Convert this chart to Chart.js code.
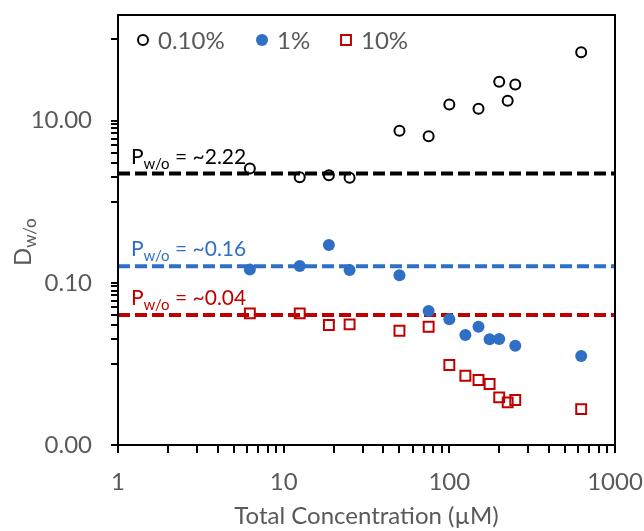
<!DOCTYPE html>
<html>
<head>
<meta charset="utf-8">
<script src="https://cdn.jsdelivr.net/npm/chart.js@4.4.1/dist/chart.umd.min.js"></script>
<style>
  html, body { margin: 0; padding: 0; background: #fff; }
  #c { display: block; }
</style>
</head>
<body>
<canvas id="c" width="644" height="531"></canvas>
<script>
// Total concentration (µM) for each measurement
const concentrations = [6.25, 12.5, 18.75, 25, 50, 75, 100, 125, 150, 175, 200, 225, 250, 625];
// Distribution ratio D(w/o) for each surfactant level (null = not measured)
const d01pct = [2.57, 2.0, 2.11, 1.97, 7.47, 6.42, 15.8, null, 14.0, null, 30.1, 17.5, 27.9, 69.5];
const d1pct = [0.146, 0.161, 0.292, 0.144, 0.124, 0.0448, 0.0354, 0.0227, 0.0287, 0.0201, 0.0202, null, 0.0167, 0.0125];
const d10pct = [0.042, 0.042, 0.0301, 0.0307, 0.0256, 0.0287, 0.00968, 0.00714, 0.00634, 0.00566, 0.00386, 0.00335, 0.00358, 0.00277];
const seriesNames = ['0.10%', '1%', '10%'];
// Partition coefficients P(w/o) drawn as dashed reference lines
const partitionCoeffs = [2.22, 0.16, 0.04];
// Labelled ticks
const xTickLabels = [1, 10, 100, 1000];
const yTickLabels = [0.001, 0.1, 10];

const BLACK = '#000000', BLUE = '#2F6FC5', RED = '#C00000', GREY = '#595959';
const seriesColors = [BLACK, BLUE, RED];
const FONT = 'Lato';

function toPoints(values) {
  const pts = [];
  values.forEach((v, i) => { if (v !== null) pts.push({ x: concentrations[i], y: v }); });
  return pts;
}

// x: major decades with 2..9 minor ticks
const xTicks = [];
for (let d = 0; d < 3; d++) for (let k = 1; k < 10; k++) xTicks.push(k * Math.pow(10, d));
xTicks.push(1000);
// y: base-100 majors with minor ticks in the decade just below each
const yTicks = [0.001];
for (let k = 1; k < 10; k++) yTicks.push(k / 100);
yTicks.push(0.1);
for (let k = 1; k < 10; k++) yTicks.push(k);
yTicks.push(10, 100);

const markerStyles = [
  { pointStyle: 'circle', radius: 5, borderWidth: 2, borderColor: BLACK, backgroundColor: 'rgba(0,0,0,0)' },
  { pointStyle: 'circle', radius: 6, borderWidth: 0, borderColor: BLUE, backgroundColor: BLUE },
  { pointStyle: 'rect', radius: 7, borderWidth: 2, borderColor: RED, backgroundColor: 'rgba(0,0,0,0)' }
];

const seriesData = [d01pct, d1pct, d10pct];
const datasets = seriesData.map((vals, i) => ({
  type: 'scatter',
  label: seriesNames[i],
  data: toPoints(vals),
  pointStyle: markerStyles[i].pointStyle,
  pointRadius: markerStyles[i].radius,
  pointBorderWidth: markerStyles[i].borderWidth,
  pointBorderColor: markerStyles[i].borderColor,
  pointBackgroundColor: markerStyles[i].backgroundColor,
  showLine: false
}));
partitionCoeffs.forEach((p, i) => {
  datasets.push({
    type: 'line',
    label: 'P ' + seriesNames[i],
    data: [{ x: 1, y: p }, { x: 1000, y: p }],
    borderColor: seriesColors[i],
    borderWidth: 4,
    borderDash: [12, 5],
    pointRadius: 0,
    fill: false
  });
});

function drawSubText(ctx, x, y, main, sub, rest, color, size, subSize, drop) {
  ctx.fillStyle = color;
  ctx.textBaseline = 'alphabetic';
  ctx.textAlign = 'left';
  ctx.font = size + 'px ' + FONT;
  ctx.fillText(main, x, y);
  x += ctx.measureText(main).width;
  ctx.font = subSize + 'px ' + FONT;
  ctx.fillText(sub, x, y + drop);
  x += ctx.measureText(sub).width;
  ctx.font = size + 'px ' + FONT;
  ctx.fillText(rest, x, y);
}

// keep the plot box at fixed offsets: no extra room for overhanging tick labels
function clearLabelPadding(s) {
  s.paddingLeft = 0; s.paddingRight = 0; s.paddingTop = 0; s.paddingBottom = 0;
}

const decorations = {
  id: 'decorations',
  afterDraw(chart) {
    const { ctx, chartArea: a, scales } = chart;
    ctx.save();
    // plot frame
    ctx.strokeStyle = BLACK;
    ctx.lineWidth = 2;
    ctx.strokeRect(a.left, a.top, a.right - a.left, a.bottom - a.top);

    // P(w/o) labels above each dashed line
    partitionCoeffs.forEach((p, i) => {
      const yy = scales.y.getPixelForValue(p) - 10;
      drawSubText(ctx, a.left + 13, yy, 'P', 'w/o', ' = ~' + p.toFixed(2), seriesColors[i], 21, 15, 5);
    });

    // legend inside the plot
    const legendX = [a.left + 25, a.left + 144, a.left + 228];
    const legendY = a.top + 25;
    markerStyles.forEach((m, i) => {
      ctx.strokeStyle = m.borderColor;
      ctx.fillStyle = m.backgroundColor;
      ctx.lineWidth = m.borderWidth;
      Chart.helpers.drawPoint(ctx, { pointStyle: m.pointStyle, radius: m.radius, borderWidth: m.borderWidth }, legendX[i], legendY);
      ctx.fillStyle = GREY;
      ctx.font = '24px ' + FONT;
      ctx.textBaseline = 'middle';
      ctx.textAlign = 'left';
      ctx.fillText(seriesNames[i], legendX[i] + 15, legendY + 1);
    });

    // y-axis title D(w/o)
    ctx.translate(31, 266);
    ctx.rotate(-Math.PI / 2);
    drawSubText(ctx, 0, 0, 'D', 'w/o', '', GREY, 24, 17, 5);
    ctx.restore();
  }
};

new Chart(document.getElementById('c'), {
  data: { datasets },
  options: {
    responsive: false,
    animation: false,
    layout: { padding: { left: 0, right: 29, top: 15, bottom: 0 } },
    plugins: { legend: { display: false }, tooltip: { enabled: false } },
    scales: {
      x: {
        type: 'logarithmic',
        position: 'bottom',
        min: 1,
        max: 1000,
        afterBuildTicks(s) { s.ticks = xTicks.map(v => ({ value: v })); },
        afterFit(s) { s.height = 86; clearLabelPadding(s); },
        ticks: {
          autoSkip: false, maxRotation: 0, padding: 15, color: GREY,
          font: { family: FONT, size: 24 },
          callback: v => (xTickLabels.includes(v) ? String(v) : '')
        },
        grid: { drawOnChartArea: false, drawTicks: true, tickLength: 8, color: BLACK, lineWidth: 2 },
        border: { color: BLACK, width: 2 },
        title: {
          display: true, text: 'Total Concentration (µM)', color: GREY,
          font: { family: FONT, size: 24 }, padding: { top: 4, bottom: 0 }
        }
      },
      y: {
        type: 'logarithmic',
        position: 'left',
        min: 0.001,
        max: 200,
        afterBuildTicks(s) { s.ticks = yTicks.map(v => ({ value: v })); },
        afterFit(s) { s.width = 118; clearLabelPadding(s); },
        ticks: {
          autoSkip: false, padding: 19, color: GREY,
          font: { family: FONT, size: 24 },
          callback: v => (yTickLabels.includes(v) ? v.toFixed(2) : '')
        },
        grid: { drawOnChartArea: false, drawTicks: true, tickLength: 7, color: BLACK, lineWidth: 2 },
        border: { color: BLACK, width: 2 }
      }
    }
  },
  plugins: [decorations]
});
</script>
</body>
</html>
